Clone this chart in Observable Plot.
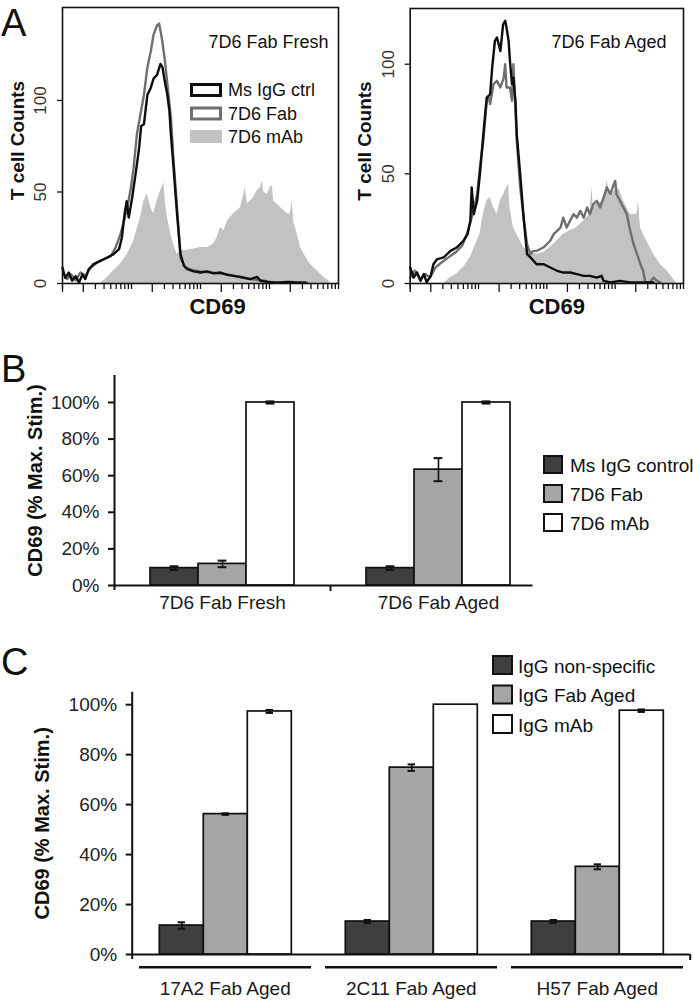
<!DOCTYPE html>
<html><head><meta charset="utf-8">
<script src="https://cdn.jsdelivr.net/npm/d3@7"></script>
<script src="https://cdn.jsdelivr.net/npm/@observablehq/plot@0.6"></script>
<style>
html,body{margin:0;padding:0;background:#fff;}
#fig{position:relative;width:693px;height:1000px;overflow:hidden;background:#fff;}
#fig svg{position:absolute;}
</style></head><body><div id="fig"></div>
<script>
// ---------------- DATA ----------------
// Panel A: flow histograms, [log10 CD69, T cell count]
const freshCtrl = [[0.00,8.7],[0.04,3],[0.09,6],[0.14,1.5],[0.19,4],[0.24,0.5],[0.29,5],[0.33,2.4],[0.38,7.8],[0.45,10.6],[0.55,12.4],[0.65,14.2],[0.74,16],[0.82,18.8],[0.86,25],[0.90,38],[0.93,45],[0.96,36],[1.01,47],[1.06,60],[1.11,74],[1.14,86],[1.18,87],[1.23,103],[1.28,107],[1.32,112],[1.37,114],[1.42,120],[1.45,118],[1.48,111],[1.52,103],[1.55,94],[1.57,82],[1.61,63],[1.66,38],[1.71,16],[1.76,9.7],[1.81,7.8],[1.90,6.6],[2.00,6],[2.10,6.6],[2.19,5.5],[2.29,6],[2.39,4.7],[2.48,4.2],[2.58,3.6],[2.72,2.4],[2.82,3.6],[2.87,1.5],[2.97,0.9],[3.11,0.5],[3.26,0.9],[3.40,0.5],[3.52,0.5]];
const freshFab = [[0.02,5],[0.07,2.4],[0.12,5],[0.19,1.8],[0.26,6],[0.33,4.2],[0.41,8.7],[0.50,11.5],[0.60,13.3],[0.70,15],[0.77,19.7],[0.84,27],[0.89,34],[0.94,41.5],[0.99,52],[1.03,63],[1.08,82],[1.13,92.5],[1.18,103],[1.23,118],[1.28,127],[1.32,136],[1.37,141],[1.40,142],[1.44,134],[1.48,123],[1.52,109],[1.57,91],[1.61,67],[1.66,41.5],[1.71,14],[1.78,8.7],[1.88,7.3],[2.00,6.6],[2.14,6],[2.29,5.5],[2.43,4.7],[2.58,3.3],[2.72,2.4],[2.92,1.5],[3.06,0.5],[3.30,0.9],[3.55,0.5]];
const freshMab = [[0.55,0],[0.65,3.3],[0.74,6.9],[0.84,10.6],[0.94,16],[1.03,23],[1.13,36],[1.18,45],[1.23,49],[1.28,41.5],[1.32,38],[1.37,45],[1.42,50.6],[1.47,55],[1.49,45],[1.52,36],[1.57,27],[1.61,21.5],[1.66,16],[1.71,17.9],[1.81,18.2],[1.90,18.8],[2.00,19.7],[2.10,19.7],[2.19,21.5],[2.24,25],[2.29,30.6],[2.34,28.8],[2.39,34],[2.43,36],[2.48,38],[2.53,39.7],[2.58,41.5],[2.63,48.8],[2.65,52.5],[2.68,43.4],[2.72,45],[2.77,47],[2.82,50.6],[2.87,52.5],[2.89,56],[2.92,49.7],[2.97,48.8],[3.01,52.5],[3.04,53.4],[3.06,45],[3.11,43.4],[3.16,41.5],[3.21,39.7],[3.26,38],[3.30,38],[3.33,45],[3.35,34],[3.40,27],[3.45,19.7],[3.50,16],[3.59,10.6],[3.69,6.9],[3.79,3.3],[3.86,1.5],[3.88,0]];
const agedCtrl = [[0.00,7.3],[0.05,2.7],[0.10,5],[0.15,1.2],[0.20,4.3],[0.24,0.5],[0.30,3.5],[0.34,8.8],[0.39,11],[0.49,11.9],[0.59,14.9],[0.68,16.4],[0.78,19.5],[0.84,22.5],[0.88,28.6],[0.90,43.8],[0.93,31.6],[0.98,37.7],[1.02,49.8],[1.07,68],[1.12,84.8],[1.17,86.3],[1.20,98.5],[1.24,110.6],[1.27,112.2],[1.32,106],[1.36,118.2],[1.39,119.8],[1.41,116.7],[1.44,110.6],[1.46,101.5],[1.49,90.9],[1.51,93.9],[1.54,83.3],[1.56,68],[1.61,49.8],[1.66,30],[1.71,13.4],[1.76,11.9],[1.85,8.8],[1.95,8.8],[2.05,7.3],[2.15,5.8],[2.24,5],[2.34,5],[2.44,4.3],[2.54,3.5],[2.63,3.5],[2.73,2.7],[2.80,3.5],[2.83,1.2],[2.93,0.5],[3.07,1.2],[3.22,0.5],[3.41,0.5],[3.56,0.5]];
const agedFab = [[0.00,2.7],[0.07,5.8],[0.15,2],[0.22,4.3],[0.29,2.7],[0.37,7.3],[0.46,9.6],[0.56,11.9],[0.66,14.1],[0.76,17.2],[0.83,22.5],[0.90,30],[0.98,40.7],[1.02,52.9],[1.07,65],[1.12,83.3],[1.15,84.8],[1.17,81.8],[1.22,90.9],[1.27,92.4],[1.32,89.4],[1.37,93.9],[1.39,100],[1.41,89.4],[1.46,89.4],[1.49,83.3],[1.51,100],[1.54,80.2],[1.56,65],[1.61,43.8],[1.66,30],[1.71,17.9],[1.76,13.4],[1.80,14.9],[1.85,14.9],[1.95,16.4],[2.05,19.5],[2.10,22.5],[2.15,24],[2.20,25.5],[2.24,30],[2.29,25.5],[2.34,28.6],[2.39,31.6],[2.44,30],[2.49,33.1],[2.54,30],[2.59,34.7],[2.63,31.6],[2.68,36.2],[2.73,37.7],[2.78,34.7],[2.83,39.2],[2.88,43.8],[2.93,40.7],[2.98,45.3],[3.00,46.8],[3.02,40.7],[3.07,37.7],[3.12,34.7],[3.17,31.6],[3.22,24],[3.27,17.9],[3.32,13.4],[3.37,8.8],[3.41,5.8],[3.44,0.5],[3.51,0.5],[3.56,2.7],[3.61,1.2],[3.66,0.5]];
const agedMab = [[0.49,0],[0.59,2.7],[0.68,4.3],[0.78,7.3],[0.88,11.9],[0.98,19.5],[1.02,22.5],[1.07,31.6],[1.12,37.7],[1.17,39.2],[1.22,34.7],[1.27,31.6],[1.32,37.7],[1.37,40.7],[1.41,43.8],[1.44,45.3],[1.46,34.7],[1.51,25.5],[1.56,22.5],[1.61,19.5],[1.66,16.4],[1.76,14.1],[1.85,13.4],[1.95,14.1],[2.05,16.4],[2.15,19.5],[2.24,22.5],[2.34,24],[2.44,25.5],[2.54,28.6],[2.63,31.6],[2.66,43.8],[2.68,34.7],[2.73,36.2],[2.83,37.7],[2.88,46.8],[2.93,39.2],[3.02,43.8],[3.07,42.2],[3.12,37.7],[3.17,34.7],[3.22,31.6],[3.32,31.6],[3.34,37.7],[3.37,25.5],[3.41,22.5],[3.46,19.5],[3.56,13.4],[3.66,8.8],[3.76,5.8],[3.85,2],[3.90,0]];
const cd69Decades = [1, 10, 100, 1000];
const tickMultipliers = [1, 2, 3, 4, 5, 6, 7, 8, 9];
const countTicks = [0, 50, 100];
const histLegend = ["Ms IgG ctrl", "7D6 Fab", "7D6 mAb"];
const histTitles = ["7D6 Fab Fresh", "7D6 Fab Aged"];

// Panel B
const groupsB = ["7D6 Fab Fresh", "7D6 Fab Aged"];
const seriesB = ["Ms IgG control", "7D6 Fab", "7D6 mAb"];
const valuesB = [[9.5, 11.8, 100], [9.5, 63.3, 100]];
const errorsB = [[1.0, 1.8, 0.6], [1.0, 6.3, 0.6]];

// Panel C
const groupsC = ["17A2 Fab Aged", "2C11 Fab Aged", "H57 Fab Aged"];
const seriesC = ["IgG non-specific", "IgG Fab Aged", "IgG mAb"];
const valuesC = [[11.6, 56.2, 97.3], [13.2, 74.8, 100], [13.2, 35.1, 97.6]];
const errorsC = [[1.3, 0.3, 0.6], [0.6, 1.3, 0], [0.6, 1.0, 0.5]];
const pctTicks = [0, 20, 40, 60, 80, 100];

// ---------------- STYLE ----------------
const FONT = '"Liberation Sans", Arial, sans-serif';
const LABEL_SIZE = 19;
const CTRL_BLACK = "#0d0d0d", FAB_GREY = "#6f6f6f", MAB_GREY = "#c2c2c2";
const BAR_FILLS = ["#3f3f3f", "#a5a5a5", "#ffffff"];
const INK = "#111";

const fig = document.getElementById("fig");
function place(node, left, top) { node.style.left = left + "px"; node.style.top = top + "px"; fig.appendChild(node); }

const majorTicks = cd69Decades.map(d => 2 * d).concat([1]);
const minorTicks = cd69Decades.flatMap(d => tickMultipliers.filter(m => m !== 2).map(m => m * d)).concat([1e4]);

function histogram(o) {
  const X = d => 10 ** d[0], Y = d => d[1];
  return Plot.plot({
    width: o.width, height: 325,
    marginLeft: o.ml, marginRight: o.mr, marginTop: o.mt, marginBottom: 42,
    style: {background: "transparent", fontFamily: FONT, overflow: "visible", color: INK},
    x: {type: "log", domain: [1, 1e4], axis: null},
    y: {domain: [0, o.yMax], axis: null},
    marks: [
      Plot.areaY(o.mab, {x: X, y: Y, fill: MAB_GREY}),
      Plot.lineY(o.fab, {x: X, y: Y, stroke: FAB_GREY, strokeWidth: 2.4}),
      Plot.lineY(o.ctrl, {x: X, y: Y, stroke: CTRL_BLACK, strokeWidth: 2.4}),
      Plot.frame({stroke: INK, strokeWidth: 1.6}),
      Plot.axisX({ticks: minorTicks, tickSize: 6, tickFormat: () => "", label: null, strokeWidth: 1.3}),
      Plot.axisX({ticks: majorTicks, tickSize: 9, tickFormat: () => "", label: null, strokeWidth: 1.3}),
      Plot.axisY({ticks: countTicks, tickSize: 5, tickFormat: () => "", label: null, strokeWidth: 1.3}),
      Plot.text(countTicks, {y: d => d, text: d => String(d), frameAnchor: "left", dx: -22, rotate: -90, textAnchor: "middle", fontSize: 17, fill: "#333"}),
      Plot.text(["T cell Counts"], {frameAnchor: "left", dx: -45, dy: -5, rotate: -90, textAnchor: "middle", fontWeight: "bold", fontSize: 19}),
      Plot.text(["CD69"], {frameAnchor: "bottom", dx: o.cdDx, dy: 30, textAnchor: "middle", fontWeight: "bold", fontSize: 22}),
      Plot.text([o.title], {frameAnchor: "top-right", dx: o.titleDx, dy: o.titleDy, textAnchor: "end", fontSize: 18})
    ]
  });
}

place(histogram({width: 345, ml: 62, mr: 7, mt: 7, yMax: 150.8, ctrl: freshCtrl, fab: freshFab, mab: freshMab, title: histTitles[0], titleDx: -10, titleDy: 28, cdDx: 17}), 0, 0);
place(histogram({width: 350, ml: 66.7, mr: 10, mt: 8, yMax: 125.4, ctrl: agedCtrl, fab: agedFab, mab: agedMab, title: histTitles[1], titleDx: -17, titleDy: 26.5, cdDx: 10}), 343, 0);

function barChart(o) {
  const rows = o.groups.flatMap((g, i) => o.series.map((s, j) => ({group: g, series: s, value: o.values[i][j], err: o.errors[i][j]})));
  const withErr = rows.filter(d => d.err > 0);
  const common = {width: 693, height: o.height, marginTop: o.mt, marginBottom: o.mb, marginLeft: o.ml, marginRight: o.mr,
    style: {background: "transparent", fontFamily: FONT, overflow: "visible", color: INK}};
  const cap = {fx: "group", x: "series", insetLeft: o.capInset, insetRight: o.capInset, stroke: INK, strokeWidth: 2};
  const bars = Plot.plot({...common,
    fx: {domain: o.groups, padding: 0, axis: null},
    x: {domain: o.series, paddingInner: 0, paddingOuter: o.outer, axis: null},
    y: {domain: [0, o.yMax], axis: null},
    color: {domain: o.series, range: BAR_FILLS},
    marks: [
      Plot.barY(rows, {fx: "group", x: "series", y: "value", fill: "series", stroke: INK, strokeWidth: 1.7}),
      Plot.ruleX(withErr, {fx: "group", x: "series", y1: d => d.value - d.err, y2: d => d.value + d.err, stroke: INK, strokeWidth: 1.6}),
      Plot.tickY(withErr, {...cap, y: d => d.value - d.err}),
      Plot.tickY(withErr, {...cap, y: d => d.value + d.err}),
      ...(o.underline ? [Plot.ruleY([0], {dy: 12.7, insetLeft: 7, insetRight: 7, stroke: INK, strokeWidth: 2.6})] : [])
    ]
  });
  const n = o.groups.length;
  const axes = Plot.plot({...common,
    x: {domain: [0, n], axis: null},
    y: {domain: [0, o.yMax], axis: null},
    marks: [
      Plot.ruleY([0], {stroke: INK, strokeWidth: 2, insetRight: o.baseInsetRight}),
      Plot.ruleX([0], {stroke: INK, strokeWidth: 2, insetBottom: -5}),
      Plot.axisY({ticks: pctTicks, tickSize: 6, tickPadding: 9, tickFormat: d => d + "%", fontSize: LABEL_SIZE, strokeWidth: 2, label: null, fill: "#222"}),
      Plot.axisX({ticks: o.sepTicks, tickSize: 6, tickFormat: () => "", strokeWidth: 2, label: null}),
      Plot.axisX({ticks: d3.range(n).map(i => i + 0.5), tickSize: 0, tickPadding: o.labelPad, tickFormat: t => o.groups[Math.floor(t)], fontSize: LABEL_SIZE, label: null, fill: "#1a1a1a"}),
      Plot.text(["CD69 (% Max. Stim.)"], {frameAnchor: "left", dx: o.titleDx, rotate: -90, textAnchor: "middle", fontWeight: "bold", fontSize: 20})
    ]
  });
  return [bars, axes];
}

const [barsB, axesB] = barChart({groups: groupsB, series: seriesB, values: valuesB, errors: errorsB,
  height: 262, mt: 15, mb: 37, ml: 114, mr: 147, yMax: 114.75, outer: 0.736, capInset: 19.6,
  baseInsetRight: 13.5, sepTicks: [1], labelPad: 10, titleDx: -79, underline: false});
place(barsB, 0, 360); place(axesB, 0, 360);

const [barsC, axesC] = barChart({groups: groupsC, series: seriesC, values: valuesC, errors: errorsC,
  height: 360, mt: 51.7, mb: 46, ml: 131.7, mr: 3.3, yMax: 105, outer: 0.58, capInset: 18.3,
  baseInsetRight: 0, sepTicks: [3], labelPad: 27, titleDx: -90, underline: true});
place(barsC, 0, 640); place(axesC, 0, 640);

// ---------------- Letters and legends ----------------
const over = d3.create("svg").attr("width", 693).attr("height", 1000).style("left", "0px").style("top", "0px");
over.selectAll("text.letter").data([["A", 36], ["B", 382], ["C", 675]]).join("text")
  .attr("x", 1).attr("y", d => d[1]).text(d => d[0])
  .attr("font-family", FONT).attr("font-size", 38).attr("fill", INK);

// Legend A
const legA = [
  {fill: "#fff", stroke: CTRL_BLACK, sw: 3, y: 84.5, h: 11, x: 191.5, w: 29},
  {fill: "#fff", stroke: FAB_GREY, sw: 3, y: 108, h: 11, x: 191.5, w: 29},
  {fill: MAB_GREY, stroke: "none", sw: 0, y: 130, h: 13, x: 190, w: 32}
];
over.selectAll("rect.la").data(legA).join("rect")
  .attr("x", d => d.x).attr("y", d => d.y).attr("width", d => d.w).attr("height", d => d.h)
  .attr("fill", d => d.fill).attr("stroke", d => d.stroke).attr("stroke-width", d => d.sw);
over.selectAll("text.la").data(histLegend).join("text")
  .attr("x", 228).attr("y", (d, i) => [90, 113.5, 137][i]).attr("dominant-baseline", "central")
  .text(d => d).attr("font-family", FONT).attr("font-size", 18).attr("fill", INK);

function barLegend(labels, x, y0, step, w, h, tx) {
  const g = over.append("g");
  g.selectAll("rect").data(labels).join("rect")
    .attr("x", x).attr("y", (d, i) => y0 + i * step).attr("width", w).attr("height", h)
    .attr("fill", (d, i) => BAR_FILLS[i]).attr("stroke", INK).attr("stroke-width", 2);
  g.selectAll("text").data(labels).join("text")
    .attr("x", tx).attr("y", (d, i) => y0 + i * step + h / 2 + 1).attr("dominant-baseline", "central")
    .text(d => d).attr("font-family", FONT).attr("font-size", LABEL_SIZE).attr("fill", INK);
}
barLegend(seriesB, 544, 456, 29, 18, 17, 570);
barLegend(seriesC, 493, 656, 29.5, 19, 18, 518);

place(over.node(), 0, 0);
</script></body></html>
